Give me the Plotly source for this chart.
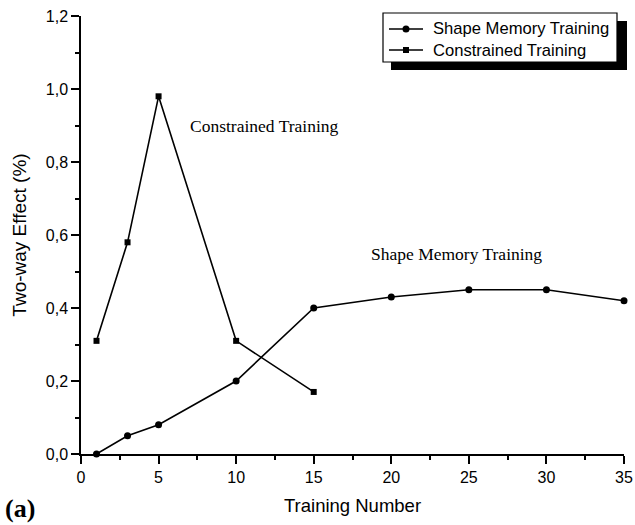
import plotly.graph_objects as go

smt_x = [1, 3, 5, 10, 15, 20, 25, 30, 35]
smt_y = [0.0, 0.05, 0.08, 0.20, 0.40, 0.43, 0.45, 0.45, 0.42]
ct_x = [1, 3, 5, 10, 15]
ct_y = [0.31, 0.58, 0.98, 0.31, 0.17]
series_names = ["Shape Memory Training", "Constrained Training"]

fig = go.Figure()
fig.add_trace(go.Scatter(x=smt_x, y=smt_y, mode="lines+markers", name=series_names[0],
                         line=dict(color="black", width=1.6),
                         marker=dict(symbol="circle", size=7, color="black"), cliponaxis=False))
fig.add_trace(go.Scatter(x=ct_x, y=ct_y, mode="lines+markers", name=series_names[1],
                         line=dict(color="black", width=1.6),
                         marker=dict(symbol="square", size=6, color="black"), cliponaxis=False))

L, R, T, B = 81, 11, 16, 71
W, H = 635, 525
pw, ph = W - L - R, H - T - B

def px(xp):
    return (xp - L) / pw

def py(yp):
    return (H - B - yp) / ph

# manual legend with drop shadow
fig.add_shape(type="rect", xref="paper", yref="paper",
              x0=px(391), x1=px(627), y0=py(70), y1=py(21),
              fillcolor="black", line=dict(width=0), layer="above")
fig.add_shape(type="rect", xref="paper", yref="paper",
              x0=px(383), x1=px(617), y0=py(62), y1=py(13),
              fillcolor="white", line=dict(color="black", width=1.2), layer="above")
for i, (name, sym) in enumerate(zip(series_names, ["circle", "square"])):
    yc = 29 + 21 * i
    fig.add_shape(type="line", xref="paper", yref="paper",
                  x0=px(389), x1=px(423), y0=py(yc), y1=py(yc),
                  line=dict(color="black", width=1.6), layer="above")
    if sym == "circle":
        fig.add_shape(type="circle", xref="paper", yref="paper",
                      x0=px(402.5), x1=px(409.5), y0=py(yc + 3.5), y1=py(yc - 3.5),
                      fillcolor="black", line=dict(color="black", width=0), layer="above")
    else:
        fig.add_shape(type="rect", xref="paper", yref="paper",
                      x0=px(403), x1=px(409), y0=py(yc + 3), y1=py(yc - 3),
                      fillcolor="black", line=dict(color="black", width=0), layer="above")
    fig.add_annotation(x=px(431), y=py(yc), xref="paper", yref="paper", text=name,
                       showarrow=False, xanchor="left", yanchor="middle",
                       font=dict(family="Liberation Sans", size=16.6, color="black"))

fig.add_annotation(x=11.8, y=0.899, xref="x", yref="y", text="Constrained Training", showarrow=False,
                   font=dict(family="Liberation Serif", size=17.5, color="black"))
fig.add_annotation(x=24.2, y=0.548, xref="x", yref="y", text="Shape Memory Training", showarrow=False,
                   font=dict(family="Liberation Serif", size=17.5, color="black"))
fig.add_annotation(x=px(3), y=py(508), xref="paper", yref="paper", text="<b>(a)</b>", showarrow=False,
                   xanchor="left", yanchor="middle",
                   font=dict(family="Liberation Serif", size=26, color="black"))

fig.update_layout(
    width=W, height=H,
    margin=dict(l=L, r=R, t=T, b=B, autoexpand=False),
    paper_bgcolor="white", plot_bgcolor="white",
    separators=",.",
    font=dict(family="Liberation Sans", size=16, color="black"),
    showlegend=False,
    xaxis=dict(range=[0, 35], tickvals=[0, 5, 10, 15, 20, 25, 30, 35], ticks="outside",
               ticklen=8, tickwidth=1.5, tickcolor="black", showline=True, linecolor="black",
               linewidth=1.5, showgrid=False, zeroline=False, automargin=False, ticklabelstandoff=0,
               minor=dict(tickvals=[2.5, 7.5, 12.5, 17.5, 22.5, 27.5, 32.5], ticks="outside",
                          ticklen=4, tickwidth=1.5, tickcolor="black"),
               title=dict(text="Training Number", font=dict(size=18.5), standoff=14)),
    yaxis=dict(range=[0, 1.2], tickvals=[0, 0.2, 0.4, 0.6, 0.8, 1.0, 1.2], tickformat=".1f",
               ticks="outside", ticklen=8, tickwidth=1.5, tickcolor="black", showline=True,
               linecolor="black", linewidth=1.5, showgrid=False, zeroline=False, automargin=False,
               minor=dict(tickvals=[0.1, 0.3, 0.5, 0.7, 0.9, 1.1], ticks="outside",
                          ticklen=4, tickwidth=1.5, tickcolor="black"),
               title=dict(text="Two-way Effect (%)", font=dict(size=19), standoff=14)),
)

fig.write_html("out.html")
